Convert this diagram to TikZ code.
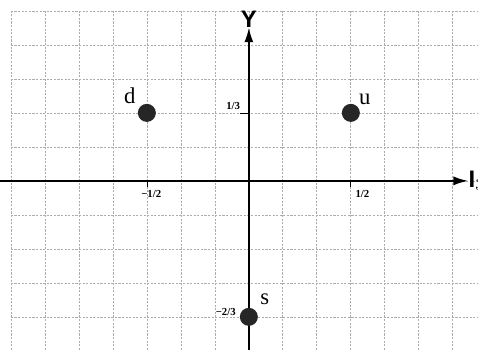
\documentclass[tikz,border=0pt]{standalone}
\usepackage{fontspec}
\setmainfont{Liberation Serif}
\setsansfont{Liberation Sans}
\usetikzlibrary{arrows.meta}

\tikzset{
  grille/.style={gray!65, dash pattern=on 1.8pt off 1.2pt, line width=0.6pt},
  axe/.style={line width=1.1pt, -{Latex[length=12pt,width=7.5pt]}},
  quark/.style={circle, fill=black!85, inner sep=0pt, minimum size=0.53cm},
  saveur/.style={font=\fontsize{19}{21}\selectfont, inner sep=0pt, anchor=base},
  valeur/.style={font=\bfseries\fontsize{9}{10}\selectfont, inner sep=0pt, anchor=base},
  nomaxe/.style={font=\sffamily\bfseries\fontsize{20}{22}\selectfont, inner sep=0.5pt}
}

\begin{document}
\begin{tikzpicture}
    \useasboundingbox (-7.32,-4.97) rectangle (6.74,5.32);
    \clip (-7.32,-4.97) rectangle (6.74,5.32);

    % La grille en pointillés
    \foreach \y in {-4,...,5} \draw[grille] (-7,\y) -- (6.74,\y);
    \foreach \x in {-7,...,6} \draw[grille] (\x,-4.97) -- (\x,5);

    % Les deux axes
    \coordinate (G) at (-7.32,0);
    \coordinate (D) at (6.44,0);
    \coordinate (B) at (0,-4.97);
    \coordinate (H) at (0,4.5);
    \draw[axe] (G) -- (D);
    \draw[axe] (B) -- (H);
    \node[nomaxe, anchor=west] (I) at (D) {I$_3$};
    \node[nomaxe, anchor=south, inner sep=0pt] (Y) at (H) {Y};

    % Graduations
    \draw[line width=0.6pt] (-0.26,2) -- (0,2);
    \draw[line width=0.6pt] (3,0) -- (3,-0.18);
    \draw[line width=0.6pt] (-3,0) -- (-3,-0.18);
    \node[valeur] (v13) at (-0.46,2.09) {1/3};
    \node[valeur] (v12) at (3.34,-0.5) {1/2};
    \node[valeur] (vm12) at (-2.87,-0.5) {−1/2};
    \node[valeur] (vm23) at (-0.68,-3.97) {−2/3};

    % Les trois quarks
    \node[quark] (d) at (-3,2) {};
    \node[quark] (u) at (3,2) {};
    \node[quark] (s) at (0,-4) {};
    \node[saveur] (nd) at (-3.5,2.29) {d};
    \node[saveur] (nu) at (3.41,2.24) {u};
    \node[saveur] (ns) at (0.47,-3.65) {s};
\end{tikzpicture}
\end{document}
